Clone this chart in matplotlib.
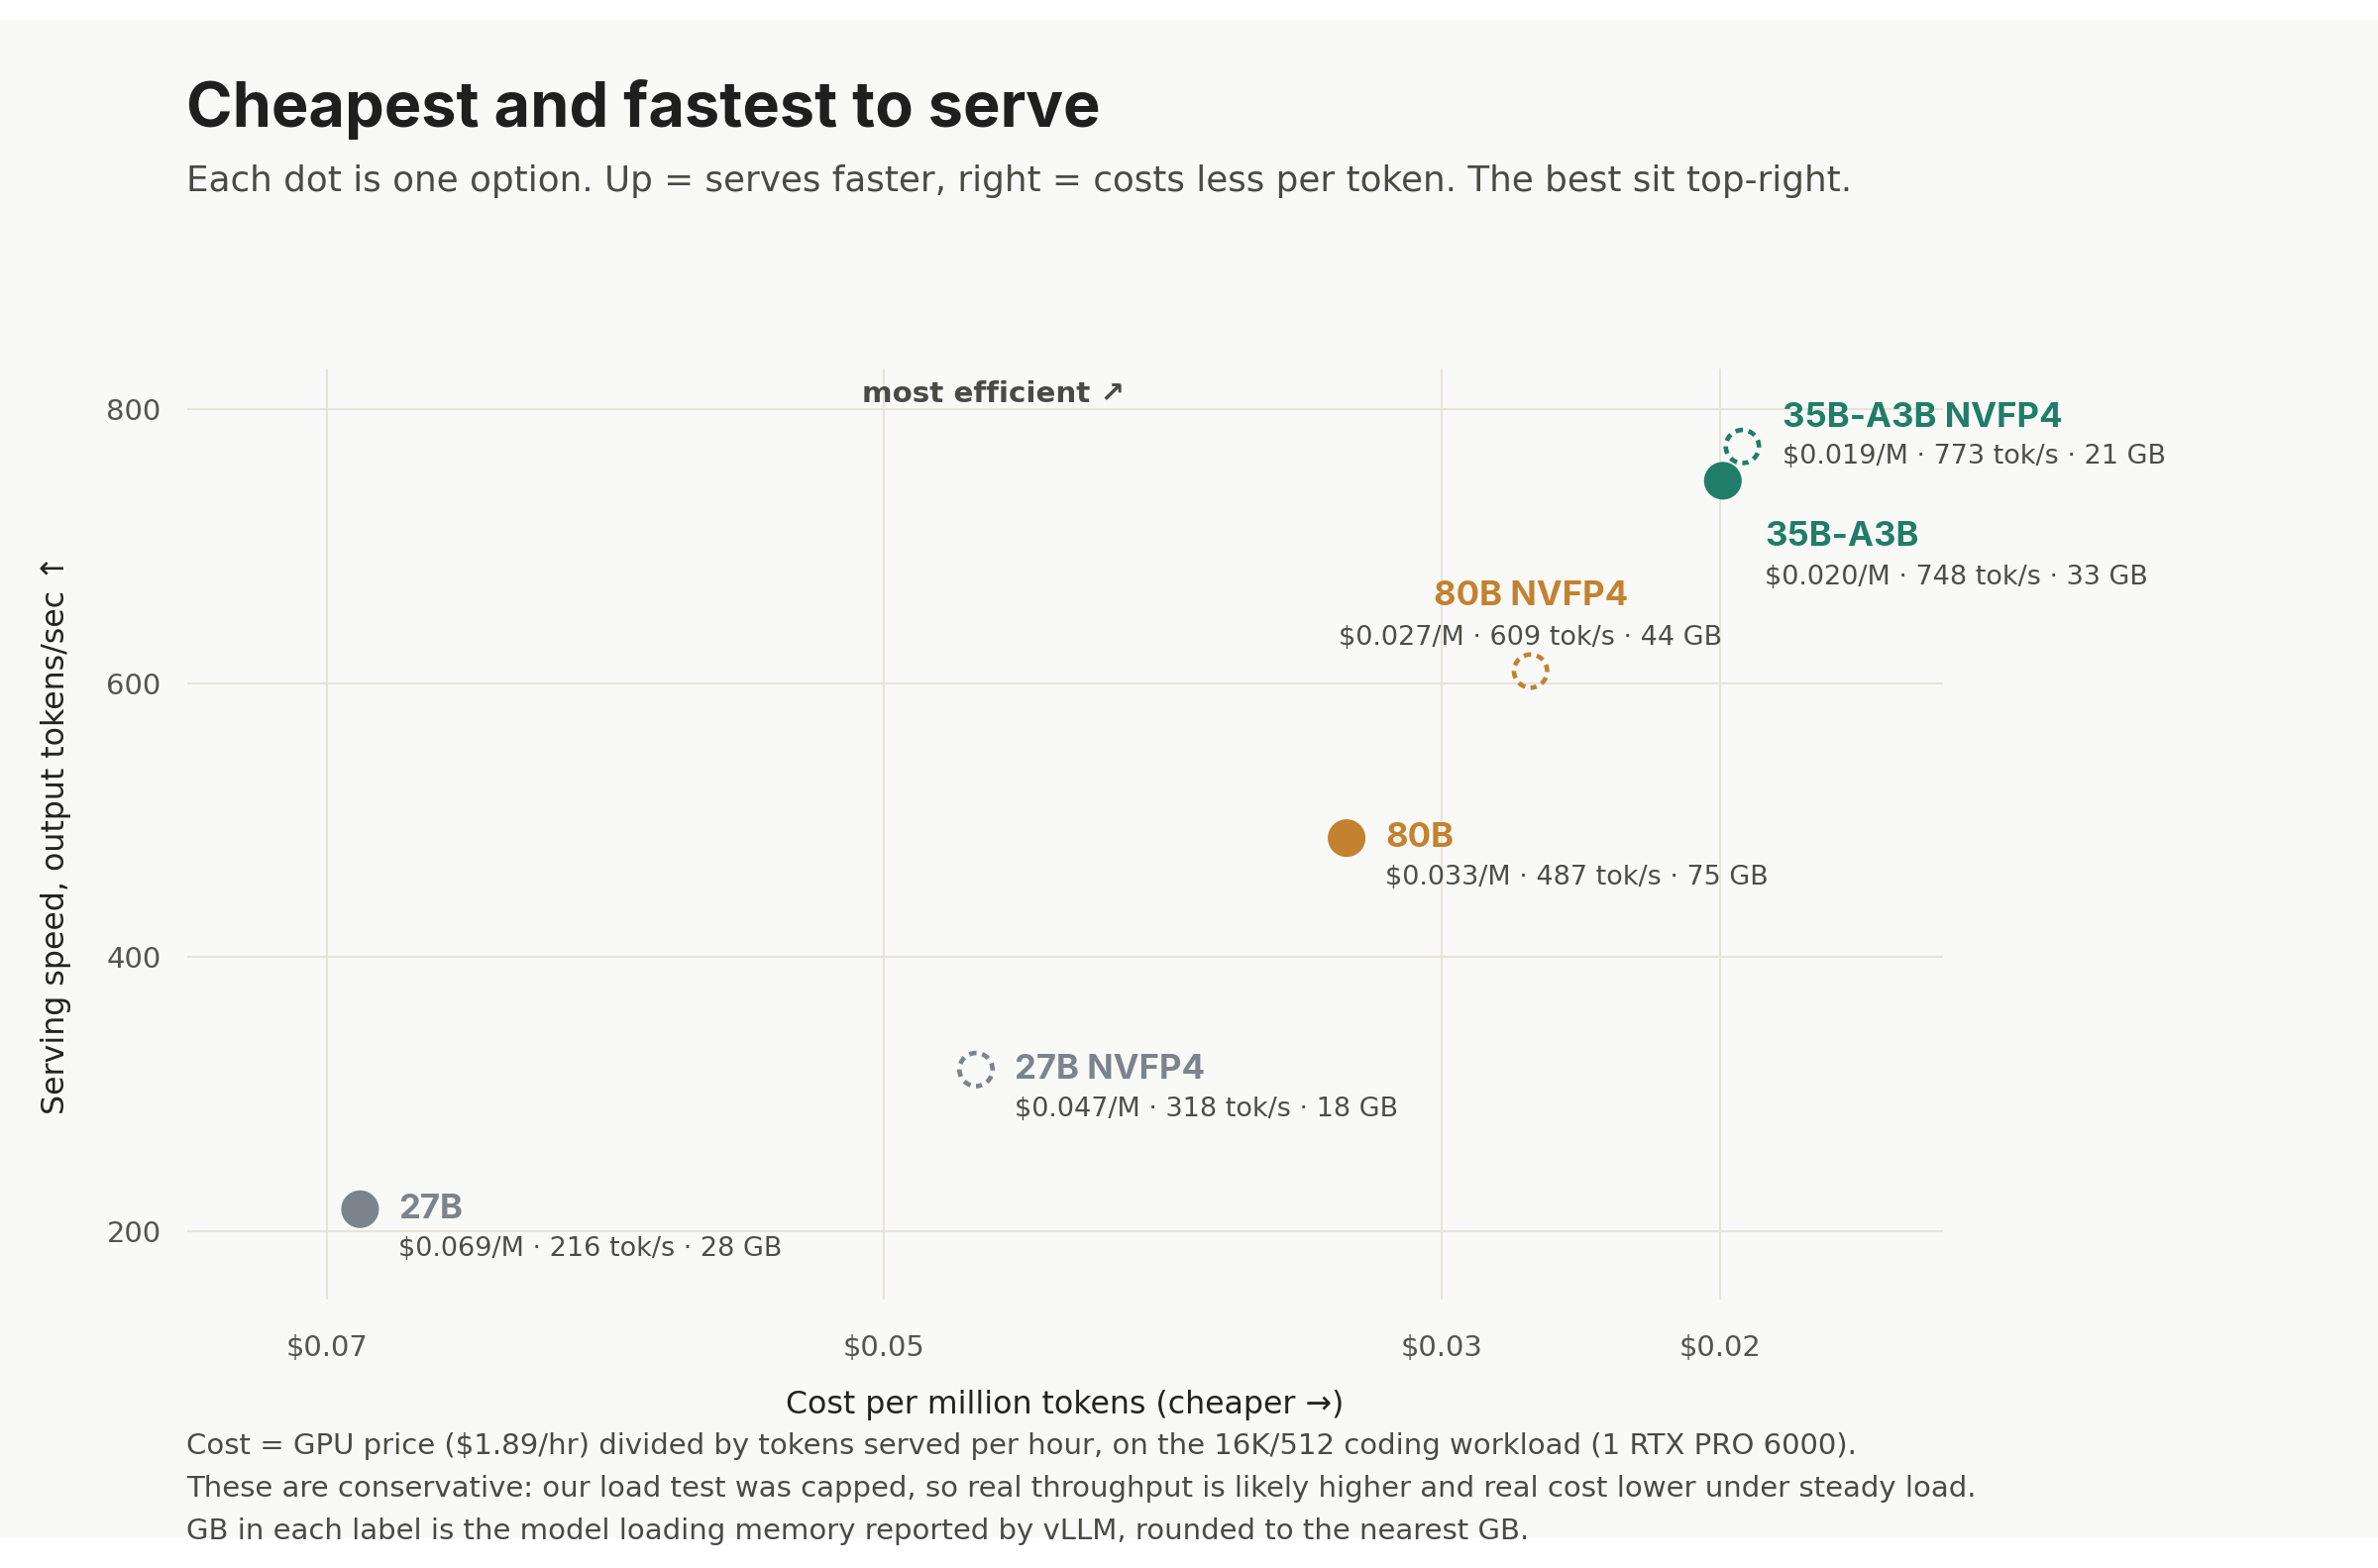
import matplotlib
matplotlib.use("Agg")
import matplotlib.pyplot as plt
from matplotlib.patches import Rectangle

BODY = ['DejaVu Sans']
HEAD = ['Inter', 'DejaVu Sans']
plt.rcParams['font.family'] = BODY

# ---- data ----
models = ["27B", "27B NVFP4", "80B", "80B NVFP4", "35B-A3B", "35B-A3B NVFP4"]
cost_per_m = [0.0688, 0.0467, 0.0334, 0.0268, 0.0199, 0.0192]
speed_tok_s = [216, 318, 487, 609, 748, 773]
memory_gb = [28, 18, 75, 44, 33, 21]
quantized = [False, True, False, True, False, True]
family = ["27B", "27B", "80B", "80B", "35B", "35B"]

x_ticks = [0.07, 0.05, 0.03, 0.02]
x_tick_labels = ["$0.07", "$0.05", "$0.03", "$0.02"]
y_ticks = [200, 400, 600, 800]

family_colors = {"27B": "#7b838d", "80B": "#c4812f", "35B": "#1f7d68"}

W, H = 2400, 1583
fig = plt.figure(figsize=(W / 100, H / 100), dpi=100)
fig.patch.set_facecolor("white")
BG = "#f9f9f7"
fig.patches.append(Rectangle((0, 1 - 1552 / H), 1, (1552 - 20) / H,
                             transform=fig.transFigure, facecolor=BG,
                             edgecolor="none", zorder=-10))
renderer = fig.canvas.get_renderer()


def fit_width(t, target_px):
    cur = t.get_window_extent(renderer).width
    t.set_fontsize(t.get_fontsize() * target_px / cur)
    return t.get_fontsize()


def size_for(text, target_px, **kw):
    t = fig.text(0, 0, text, fontsize=20, **kw)
    s = fit_width(t, target_px)
    t.remove()
    return s


ax_l, ax_r, ax_t, ax_b = 189, 1961, 372, 1312
ax = fig.add_axes([ax_l / W, 1 - ax_b / H, (ax_r - ax_l) / W, (ax_b - ax_t) / H])
ax.patch.set_alpha(0)
ax.set_xlim(0.075, 0.012)
ax.set_ylim(150, 830)
for s in ax.spines.values():
    s.set_visible(False)
ax.set_xticks(x_ticks)
ax.set_xticklabels(x_tick_labels)
ax.set_yticks(y_ticks)
tick_size = size_for("$0.07", 83)
ax.tick_params(length=0, labelsize=tick_size, colors="#55554f")
ax.tick_params(axis="x", pad=25)
ax.tick_params(axis="y", pad=19)
ax.grid(True, color="#e7e4db", linewidth=1.5)
ax.set_axisbelow(True)

lab_size = size_for("Cost per million tokens (cheaper →)", 563)
ax.set_xlabel("Cost per million tokens (cheaper →)", fontsize=lab_size, color="#222222")
ax.set_ylabel("Serving speed, output tokens/sec ↑", fontsize=lab_size, color="#222222")
ax.xaxis.set_label_coords(0.5, -(1419 - ax_b) / (ax_b - ax_t))
ax.xaxis.label.set_va("center")
ax.yaxis.set_label_coords(-(ax_l - 57) / (ax_r - ax_l), 0.5)
ax.yaxis.label.set_va("center")
ax.yaxis.label.set_ha("center")

# markers (dash pattern is scaled by the line width)
for i, m in enumerate(models):
    c = family_colors[family[i]]
    if quantized[i]:
        ax.scatter([cost_per_m[i]], [speed_tok_s[i]], s=580, facecolor="none",
                   edgecolor=c, linewidth=3.3, linestyle=(0.3, (1.65, 1.26)), zorder=3)
    else:
        ax.scatter([cost_per_m[i]], [speed_tok_s[i]], s=750, color=c,
                   edgecolor="none", zorder=4)

name_size = size_for("35B-A3B NVFP4", 283, fontweight="bold", family=HEAD)
detail_size = size_for("$0.069/M · 216 tok/s · 28 GB", 387)

# label placement: (dx name, dy name baseline, dy detail baseline, ha) in pixels
default_place = (39, -9, -47, "left")
placements = {
    "80B NVFP4": (0, 66, 26, "center"),
    "35B-A3B": (42, -66, -105, "left"),
    "35B-A3B NVFP4": (41, 20, -17, "left"),
}
for i, m in enumerate(models):
    c = family_colors[family[i]]
    dx, dyn, dyd, ha = placements.get(m, default_place)
    xy = (cost_per_m[i], speed_tok_s[i])
    ax.annotate(m, xy, xytext=(dx, dyn), textcoords="offset pixels",
                ha=ha, va="baseline", fontsize=name_size, fontweight="bold", color=c,
                family=HEAD, zorder=5)
    detail = f"${cost_per_m[i]:.3f}/M · {speed_tok_s[i]} tok/s · {memory_gb[i]} GB"
    ax.annotate(detail, xy, xytext=(dx, dyd), textcoords="offset pixels",
                ha=ha, va="baseline", fontsize=detail_size, color="#4d4d48", zorder=5)

eff_size = size_for("most efficient ↗", 266, fontweight="bold")
ax.text(0.4594, 0.972, "most efficient ↗", transform=ax.transAxes, ha="center",
        va="center", fontsize=eff_size, fontweight="bold", color="#4a4a45")

# titles
title = fig.text(188 / W, 1 - 128 / H, "Cheapest and fastest to serve", fontsize=45,
                 fontweight="bold", color="#1f1f1f", va="baseline", ha="left",
                 family=HEAD)
fit_width(title, 923)
sub = fig.text(188 / W, 1 - 193 / H,
               "Each dot is one option. Up = serves faster, right = costs less per token. The best sit top-right.",
               fontsize=24, color="#4a4a45", va="baseline", ha="left")
fit_width(sub, 1685)

notes = [
    "Cost = GPU price ($1.89/hr) divided by tokens served per hour, on the 16K/512 coding workload (1 RTX PRO 6000).",
    "These are conservative: our load test was capped, so real throughput is likely higher and real cost lower under steady load.",
    "GB in each label is the model loading memory reported by vLLM, rounded to the nearest GB.",
]
note_size = size_for(notes[1], 1806)
for k, line in enumerate(notes):
    fig.text(188 / W, 1 - (1460 + 43 * k) / H, line, fontsize=note_size,
             color="#4a4a45", va="center", ha="left")

fig.savefig("out.png", dpi=100, facecolor=fig.get_facecolor())
